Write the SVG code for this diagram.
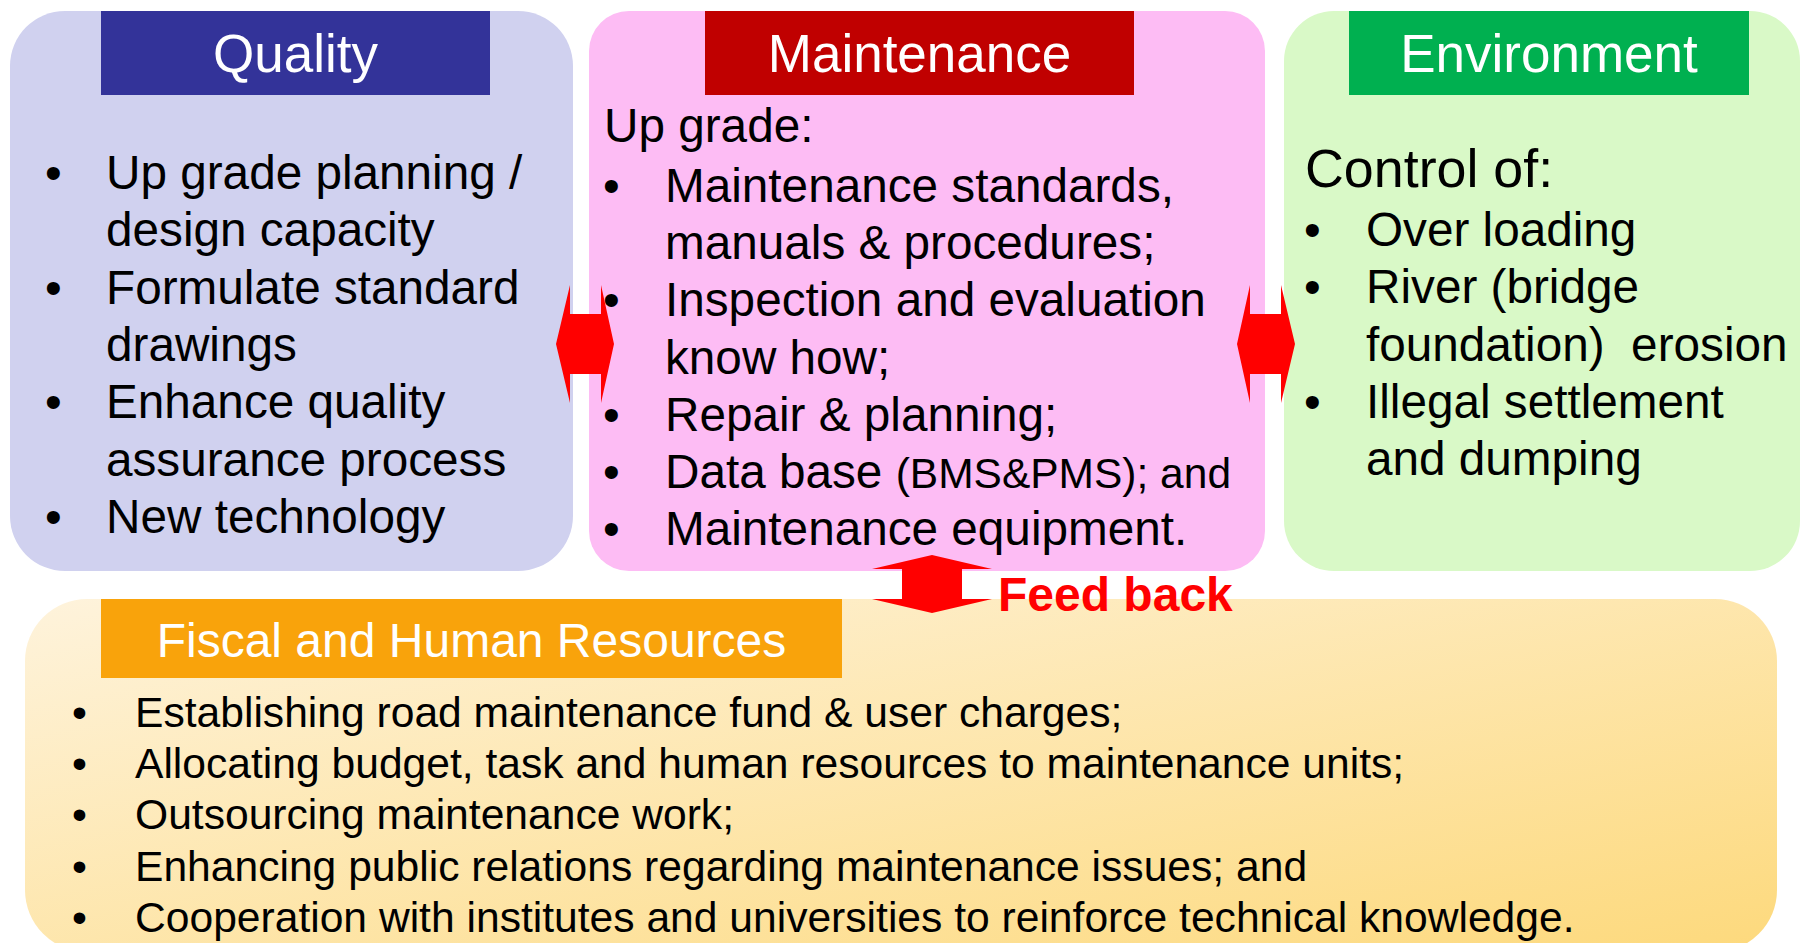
<svg xmlns="http://www.w3.org/2000/svg" width="1803" height="943" viewBox="0 0 1803 943">
<defs>
<linearGradient id="fiscalGrad" x1="0" y1="0" x2="1" y2="1">
<stop offset="0" stop-color="#FEF3DC"/>
<stop offset="1" stop-color="#FDD97C"/>
</linearGradient>
<style>
text{font-family:"Liberation Sans",Arial,sans-serif;fill:#000}
.hdr{font-size:53px;fill:#fff;text-anchor:middle}
.body{font-size:47.7px}
.fbody{font-size:42.6px}
.arrow{fill:#FF0000}
.fb{font-size:48px;font-weight:bold;fill:#FF0000}
</style>
</defs>
<rect width="1803" height="943" fill="#fff"/>
<g id="quality">
<rect x="10" y="11" width="563" height="560" rx="55" fill="#D0D1EF"/>
<rect x="101" y="11" width="389" height="84" fill="#333399"/>
<text class="hdr" x="295.5" y="72">Quality</text>
<g class="body">
<text x="45" y="189">•</text><text x="106" y="189">Up grade planning /</text>
<text x="106" y="246.3">design capacity</text>
<text x="45" y="303.6">•</text><text x="106" y="303.6">Formulate standard</text>
<text x="106" y="360.9">drawings</text>
<text x="45" y="418.2">•</text><text x="106" y="418.2">Enhance quality</text>
<text x="106" y="475.5">assurance process</text>
<text x="45" y="532.8">•</text><text x="106" y="532.8">New technology</text>
</g>
</g>
<g id="maintenance">
<rect x="589" y="11" width="676" height="560" rx="40" fill="#FDBCF4"/>
<rect x="705" y="11" width="429" height="84" fill="#C00000"/>
<text class="hdr" x="919.5" y="72">Maintenance</text>
<g class="body">
<text x="604" y="142">Up grade:</text>
<text x="603" y="201.6">•</text><text x="665" y="201.6">Maintenance standards,</text>
<text x="665" y="258.9">manuals &amp; procedures;</text>
<text x="603" y="316.2">•</text><text x="665" y="316.2">Inspection and evaluation</text>
<text x="665" y="373.5">know how;</text>
<text x="603" y="430.8">•</text><text x="665" y="430.8">Repair &amp; planning;</text>
<text x="603" y="488.1">•</text><text x="665" y="488.1">Data base <tspan style="font-size:42.5px">(BMS&amp;PMS); and</tspan></text>
<text x="603" y="545.4">•</text><text x="665" y="545.4">Maintenance equipment.</text>
</g>
</g>
<g id="environment">
<rect x="1284" y="11" width="516" height="560" rx="50" fill="#D9F9C7"/>
<rect x="1349" y="11" width="400" height="84" fill="#00B050"/>
<text class="hdr" x="1549" y="72">Environment</text>
<g class="body">
<text x="1305" y="187" style="font-size:53.8px">Control of:</text>
<text x="1304" y="246">•</text><text x="1366" y="246">Over loading</text>
<text x="1304" y="303.3">•</text><text x="1366" y="303.3">River (bridge</text>
<text x="1366" y="360.6" xml:space="preserve">foundation)  erosion</text>
<text x="1304" y="417.9">•</text><text x="1366" y="417.9">Illegal settlement</text>
<text x="1366" y="475.2">and dumping</text>
</g>
</g>
<g id="fiscal">
<rect x="25" y="599" width="1752" height="353" rx="62" fill="url(#fiscalGrad)"/>
<rect x="101" y="599" width="741" height="79" fill="#F9A30B"/>
<text class="hdr" x="471.5" y="657" style="font-size:48px">Fiscal and Human Resources</text>
<g class="fbody">
<text x="72" y="727">•</text><text x="135" y="727">Establishing road maintenance fund &amp; user charges;</text>
<text x="72" y="778.2">•</text><text x="135" y="778.2">Allocating budget, task and human resources to maintenance units;</text>
<text x="72" y="829.4">•</text><text x="135" y="829.4">Outsourcing maintenance work;</text>
<text x="72" y="880.6">•</text><text x="135" y="880.6">Enhancing public relations regarding maintenance issues; and</text>
<text x="72" y="931.8">•</text><text x="135" y="931.8">Cooperation with institutes and universities to reinforce technical knowledge.</text>
</g>
</g>
<g id="connectors">
<path class="arrow" d="M556,344 L570,285 L570,314 L601,314 L601,285 L614,344 L601,403 L601,374 L570,374 L570,403 Z"/>
<path class="arrow" d="M1237,344 L1250,285 L1250,314 L1281,314 L1281,285 L1295,344 L1281,403 L1281,374 L1250,374 L1250,403 Z"/>
<path class="arrow" d="M932,555 L992,569 L962,569 L962,599 L992,599 L932,613 L872,599 L902,599 L902,569 L872,569 Z"/>
<text class="fb" x="998" y="611">Feed back</text>
</g>
</svg>
